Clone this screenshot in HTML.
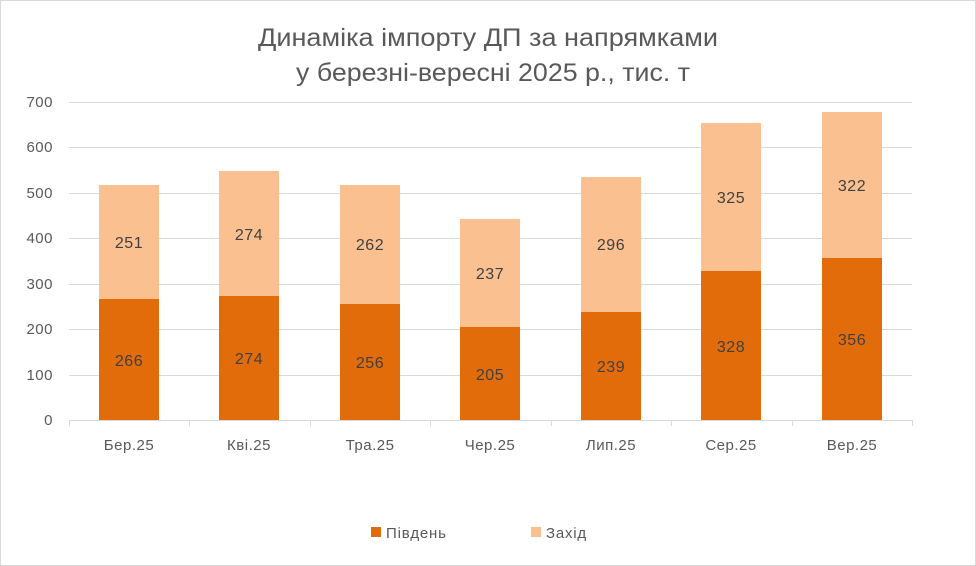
<!DOCTYPE html><html><head><meta charset="utf-8"><style>body{margin:0;background:#fff}svg{display:block}text{font-family:"Liberation Sans",sans-serif}</style></head><body>
<svg width="976" height="566" xmlns="http://www.w3.org/2000/svg">
<rect x="0.5" y="0.5" width="975" height="565" fill="#fff" stroke="#d9d9d9"/>
<text x="258" y="46" font-size="25" fill="#595959" textLength="460" lengthAdjust="spacingAndGlyphs">Динаміка імпорту ДП за напрямками</text>
<text x="296" y="81" font-size="25" fill="#595959" textLength="394" lengthAdjust="spacingAndGlyphs">у березні-вересні  2025 р., тис. т</text>
<g stroke="#d9d9d9" stroke-width="1">
<line x1="69" x2="912" y1="102.5" y2="102.5"/><line x1="69" x2="912" y1="147.5" y2="147.5"/><line x1="69" x2="912" y1="193.5" y2="193.5"/><line x1="69" x2="912" y1="238.5" y2="238.5"/><line x1="69" x2="912" y1="284.5" y2="284.5"/><line x1="69" x2="912" y1="329.5" y2="329.5"/><line x1="69" x2="912" y1="375.5" y2="375.5"/>
</g>
<g font-size="15" fill="#595959" text-anchor="end" letter-spacing="0.5">
<text x="53" y="107">700</text><text x="53" y="152">600</text><text x="53" y="198">500</text><text x="53" y="243">400</text><text x="53" y="289">300</text><text x="53" y="334">200</text><text x="53" y="380">100</text><text x="53" y="425">0</text>
</g>
<g font-size="16" fill="#404040" text-anchor="middle" letter-spacing="0.5">
<rect x="99" y="299" width="60" height="121" fill="#e36c0a"/><rect x="99" y="185" width="60" height="114" fill="#fac090"/><text x="129" y="366">266</text><text x="129" y="248">251</text>
<rect x="219" y="296" width="60" height="124" fill="#e36c0a"/><rect x="219" y="171" width="60" height="125" fill="#fac090"/><text x="249" y="364">274</text><text x="249" y="240">274</text>
<rect x="340" y="304" width="60" height="116" fill="#e36c0a"/><rect x="340" y="185" width="60" height="119" fill="#fac090"/><text x="370" y="368">256</text><text x="370" y="250">262</text>
<rect x="460" y="327" width="60" height="93" fill="#e36c0a"/><rect x="460" y="219" width="60" height="108" fill="#fac090"/><text x="490" y="380">205</text><text x="490" y="279">237</text>
<rect x="581" y="312" width="60" height="108" fill="#e36c0a"/><rect x="581" y="177" width="60" height="135" fill="#fac090"/><text x="611" y="372">239</text><text x="611" y="250">296</text>
<rect x="701" y="271" width="60" height="149" fill="#e36c0a"/><rect x="701" y="123" width="60" height="148" fill="#fac090"/><text x="731" y="352">328</text><text x="731" y="203">325</text>
<rect x="822" y="258" width="60" height="162" fill="#e36c0a"/><rect x="822" y="112" width="60" height="146" fill="#fac090"/><text x="852" y="345">356</text><text x="852" y="191">322</text>
</g>
<g stroke="#d9d9d9"><line x1="69" x2="912" y1="420.5" y2="420.5"/>
<line x1="69.5" x2="69.5" y1="420" y2="426"/><line x1="189.5" x2="189.5" y1="420" y2="426"/><line x1="310.5" x2="310.5" y1="420" y2="426"/><line x1="430.5" x2="430.5" y1="420" y2="426"/><line x1="551.5" x2="551.5" y1="420" y2="426"/><line x1="671.5" x2="671.5" y1="420" y2="426"/><line x1="792.5" x2="792.5" y1="420" y2="426"/><line x1="912.5" x2="912.5" y1="420" y2="426"/></g>
<g font-size="15" fill="#595959" text-anchor="middle" letter-spacing="0.5">
<text x="129" y="450">Бер.25</text><text x="249" y="450">Кві.25</text><text x="370" y="450">Тра.25</text><text x="490" y="450">Чер.25</text><text x="611" y="450">Лип.25</text><text x="731" y="450">Сер.25</text><text x="852" y="450">Вер.25</text>
</g>
<rect x="371" y="527" width="10" height="10" fill="#e36c0a"/><text x="386" y="538" font-size="15" fill="#595959" letter-spacing="0.8">Південь</text>
<rect x="531" y="527" width="10" height="10" fill="#fac090"/><text x="546" y="538" font-size="15" fill="#595959" letter-spacing="0.8">Захід</text>
</svg></body></html>
